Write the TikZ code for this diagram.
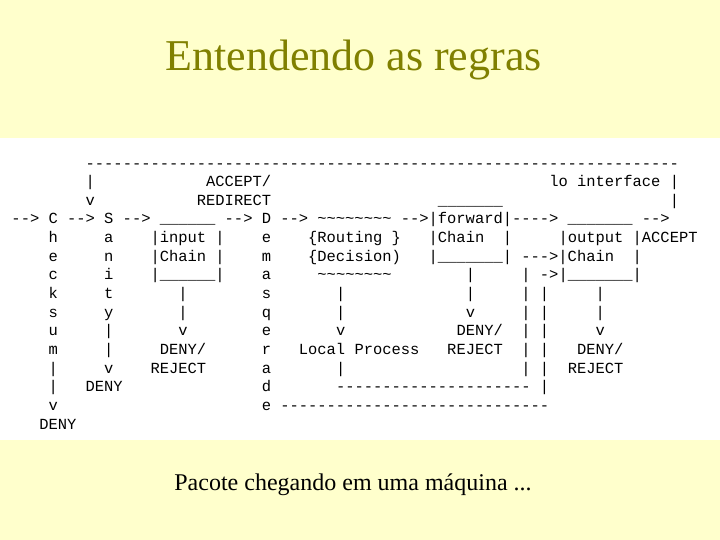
\documentclass[tikz,border=0pt]{standalone}
\usepackage{fontspec}
\setmainfont{Liberation Serif}
\setmonofont{Liberation Mono}
\definecolor{slidebg}{HTML}{FFFFCC}
\definecolor{titleolive}{HTML}{808000}
\tikzset{asciirow/.style={anchor=base west,inner sep=0pt,font=\ttfamily\fontsize{15.45bp}{18.64bp}\selectfont}}

\begingroup\obeyspaces\catcode`\~=12\catcode`\_=12%
\gdef\rowi{\relax        ----------------------------------------------------------------}%
\gdef\rowii{\relax        |            ACCEPT/                              lo interface |}%
\gdef\rowiii{\relax        v           REDIRECT                  _______                  |}%
\gdef\rowiv{\relax--> C --> S --> ______ --> D --> ~~~~~~~~ -->|forward|----> _______ -->}%
\gdef\rowv{\relax    h     a    |input |    e    \{Routing \}   |Chain  |     |output |ACCEPT}%
\gdef\rowvi{\relax    e     n    |Chain |    m    \{Decision)   |_______| --->|Chain  |}%
\gdef\rowvii{\relax    c     i    |______|    a     ~~~~~~~~        |     | ->|_______|}%
\gdef\rowviii{\relax    k     t       |        s       |             |     | |     |}%
\gdef\rowix{\relax    s     y       |        q       |             v     | |     |}%
\gdef\rowx{\relax    u     |       v        e       v            DENY/  | |     v}%
\gdef\rowxi{\relax    m     |     DENY/      r   Local Process   REJECT  | |   DENY/}%
\gdef\rowxii{\relax    |     v    REJECT      a       |                   | |  REJECT}%
\gdef\rowxiii{\relax    |   DENY               d       --------------------- |}%
\gdef\rowxiv{\relax    v                      e -----------------------------}%
\gdef\rowxv{\relax   DENY}%
\endgroup

\begin{document}
\begin{tikzpicture}[x=1bp,y=-1bp]
    \fill[slidebg](0,0)rectangle(720,540);
    \fill[white](0,138)rectangle(720,440);

    \node[anchor=base,text=titleolive,font=\fontsize{44bp}{50bp}\selectfont](title)at(353.5,70.5){Entendendo as regras};

    \node[asciirow](r1)at(11.3,168.08){\rowi};
    \node[asciirow](r2)at(11.3,186.72){\rowii};
    \node[asciirow](r3)at(11.3,205.36){\rowiii};
    \node[asciirow](r4)at(11.3,224.00){\rowiv};
    \node[asciirow](r5)at(11.3,242.64){\rowv};
    \node[asciirow](r6)at(11.3,261.28){\rowvi};
    \node[asciirow](r7)at(11.3,279.92){\rowvii};
    \node[asciirow](r8)at(11.3,298.56){\rowviii};
    \node[asciirow](r9)at(11.3,317.20){\rowix};
    \node[asciirow](r10)at(11.3,335.84){\rowx};
    \node[asciirow](r11)at(11.3,354.48){\rowxi};
    \node[asciirow](r12)at(11.3,373.12){\rowxii};
    \node[asciirow](r13)at(11.3,391.76){\rowxiii};
    \node[asciirow](r14)at(11.3,410.40){\rowxiv};
    \node[asciirow](r15)at(11.3,429.04){\rowxv};

    \node[anchor=base,font=\fontsize{24bp}{28bp}\selectfont](caption)at(353,490.5){Pacote chegando em uma máquina ...};
\end{tikzpicture}
\end{document}
